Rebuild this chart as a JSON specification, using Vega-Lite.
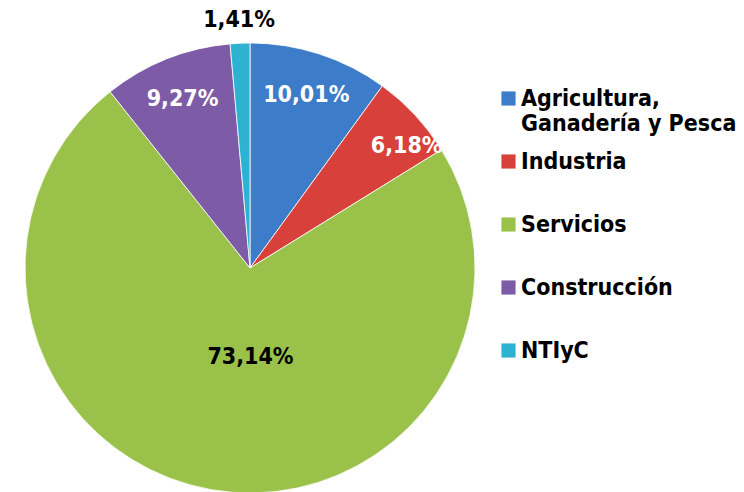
{
  "$schema": "https://vega.github.io/schema/vega-lite/v6.json",
  "width": 500,
  "height": 536,
  "padding": 0,
  "background": "white",
  "config": {"view": {"stroke": null}},
  "data": {"values": [
    {"sector": "Agricultura, Ganadería y Pesca", "orden": 1, "valor": 10.01, "etiqueta": "10,01%"},
    {"sector": "Industria", "orden": 2, "valor": 6.18, "etiqueta": "6,18%"},
    {"sector": "Servicios", "orden": 3, "valor": 73.14, "etiqueta": "73,14%"},
    {"sector": "Construcción", "orden": 4, "valor": 9.27, "etiqueta": "9,27%"},
    {"sector": "NTIyC", "orden": 5, "valor": 1.41, "etiqueta": "1,41%"}
  ]},
  "encoding": {
    "theta": {"field": "valor", "type": "quantitative", "stack": true},
    "order": {"field": "orden", "type": "quantitative", "sort": "ascending"}
  },
  "layer": [
    {
      "mark": {"type": "arc", "radius": 225, "stroke": "#ffffff", "strokeWidth": 0.8},
      "encoding": {
        "color": {
          "field": "sector", "type": "nominal", "sort": null,
          "scale": {
            "domain": ["Agricultura, Ganadería y Pesca", "Industria", "Servicios", "Construcción", "NTIyC"],
            "range": ["#3D7CC9", "#D8413B", "#9AC24A", "#7E5BA6", "#2EB2D2"]
          },
          "legend": {
            "title": null,
            "orient": "none",
            "legendX": 497,
            "legendY": 87,
            "symbolType": "square",
            "symbolSize": 200,
            "symbolStrokeWidth": 0,
            "labelFont": "'Liberation Sans Narrow', 'DejaVu Sans Condensed', 'Liberation Sans', sans-serif",
            "labelFontWeight": "bold",
            "labelFontSize": 23,
            "labelColor": "#000000",
            "labelLimit": 300,
            "labelOffset": 1,
            "rowPadding": 14,
            "labelExpr": "datum.label == 'Agricultura, Ganadería y Pesca' ? ['Agricultura,', 'Ganadería y Pesca'] : [datum.label, ' ']"
          }
        }
      }
    },
    {
      "mark": {"type": "text", "radius": 182, "font": "'Liberation Sans Narrow', 'DejaVu Sans Condensed', 'Liberation Sans', sans-serif", "fontWeight": "bold", "fontSize": 23, "color": "#ffffff"},
      "encoding": {
        "text": {"condition": {"test": "datum.sector === 'Agricultura, Ganadería y Pesca' || datum.sector === 'Construcción'", "field": "etiqueta"}, "value": ""}
      }
    },
    {
      "mark": {"type": "text", "radius": 200, "dx": 10, "dy": 14, "font": "'Liberation Sans Narrow', 'DejaVu Sans Condensed', 'Liberation Sans', sans-serif", "fontWeight": "bold", "fontSize": 23, "color": "#ffffff"},
      "encoding": {
        "text": {"condition": {"test": "datum.sector === 'Industria'", "field": "etiqueta"}, "value": ""}
      }
    },
    {
      "mark": {"type": "text", "radius": 90, "dx": 16, "font": "'Liberation Sans Narrow', 'DejaVu Sans Condensed', 'Liberation Sans', sans-serif", "fontWeight": "bold", "fontSize": 23, "color": "#000000"},
      "encoding": {
        "text": {"condition": {"test": "datum.sector === 'Servicios'", "field": "etiqueta"}, "value": ""}
      }
    },
    {
      "mark": {"type": "text", "radius": 248, "font": "'Liberation Sans Narrow', 'DejaVu Sans Condensed', 'Liberation Sans', sans-serif", "fontWeight": "bold", "fontSize": 23, "color": "#000000"},
      "encoding": {
        "text": {"condition": {"test": "datum.sector === 'NTIyC'", "field": "etiqueta"}, "value": ""}
      }
    }
  ]
}
